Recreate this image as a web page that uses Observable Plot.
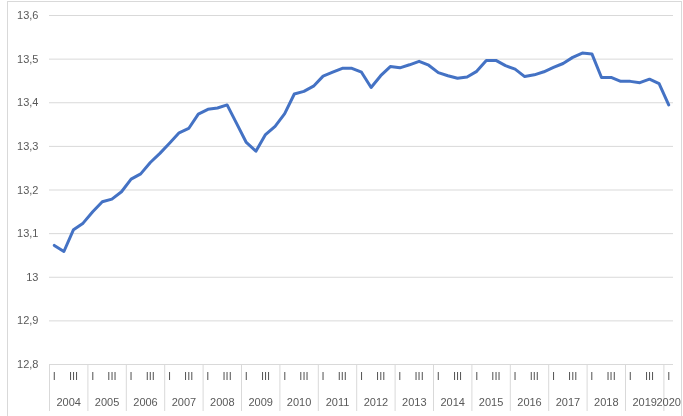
<!DOCTYPE html>
<html>
<head>
<meta charset="utf-8">
<script src="https://cdn.jsdelivr.net/npm/d3@7"></script>
<script src="https://cdn.jsdelivr.net/npm/@observablehq/plot@0.6"></script>
<style>
  html, body { margin: 0; padding: 0; background: #fff; }
  #wrap { position: relative; width: 683px; height: 416px; overflow: hidden; }
  #wrap svg { will-change: transform; }
  #border { position: absolute; left: 7px; top: 1px; width: 673px; height: 430px; border: 1px solid #d9d9d9; pointer-events: none; }
</style>
</head>
<body>
<div id="wrap"><div id="border"></div></div>
<script>
// Years covered (quarterly, 2004 Q1 .. 2020 Q1)
const years = [2004, 2005, 2006, 2007, 2008, 2009, 2010, 2011, 2012, 2013, 2014, 2015, 2016, 2017, 2018, 2019, 2020];
const quarterNames = ["I", "II", "III", "IV"];
const shownQuarters = ["I", "III"];
const yTicks = [12.8, 12.9, 13.0, 13.1, 13.2, 13.3, 13.4, 13.5, 13.6];

// Series values, one per quarter
const values = [
  13.073, 13.059, 13.109, 13.124,
  13.150, 13.173, 13.179, 13.196,
  13.225, 13.237, 13.263, 13.284,
  13.307, 13.331, 13.341, 13.374,
  13.385, 13.388, 13.395, 13.352,
  13.309, 13.289, 13.327, 13.346,
  13.375, 13.420, 13.426, 13.438,
  13.461, 13.470, 13.479, 13.479,
  13.470, 13.435, 13.462, 13.483,
  13.480, 13.487, 13.495, 13.486,
  13.469, 13.462, 13.456, 13.459,
  13.472, 13.497, 13.497, 13.485,
  13.477, 13.460, 13.464, 13.471,
  13.481, 13.490, 13.504, 13.514,
  13.512, 13.458, 13.458, 13.449,
  13.449, 13.446, 13.454, 13.444,
  13.395
];

const rows = values.map((v, i) => ({
  i,
  v,
  year: years[Math.floor(i / 4)],
  q: quarterNames[i % 4]
}));

const yearRows = years.map(y => {
  const idx = rows.filter(r => r.year === y).map(r => r.i);
  return { year: String(y), c: d3.mean(idx), start: d3.min(idx) };
});

const fmt = d => String(+d.toFixed(1)).replace(".", ",");
const gray = "#d9d9d9";
const textColor = "#595959";

const chart = Plot.plot({
  width: 683,
  height: 416,
  marginLeft: 49,
  marginRight: 10,
  marginTop: 15,
  marginBottom: 52,
  style: { fontFamily: "'Liberation Sans', Arial, sans-serif", fontSize: "11px", color: textColor, background: "transparent" },
  x: { domain: [-0.5, values.length - 0.5], axis: null },
  y: { domain: [12.8, 13.6], ticks: yTicks, tickFormat: fmt, tickSize: 0, tickPadding: 11, label: null },
  marks: [
    Plot.ruleY(yTicks, { stroke: gray, strokeWidth: 1 }),
    Plot.ruleX(yearRows, { x: d => d.start - 0.5, stroke: gray, strokeWidth: 1, insetTop: 349, insetBottom: -47 }),
    Plot.text(rows.filter(r => shownQuarters.includes(r.q)), { x: "i", text: "q", frameAnchor: "bottom", lineAnchor: "middle", dy: 12, fill: textColor }),
    Plot.text(yearRows, { x: "c", text: "year", frameAnchor: "bottom", lineAnchor: "middle", dy: 38, fill: textColor }),
    Plot.line(rows, { x: "i", y: "v", stroke: "#4472C4", strokeWidth: 3, strokeLinejoin: "round", strokeLinecap: "round" })
  ]
});
document.getElementById("wrap").prepend(chart);
</script>
</body>
</html>
